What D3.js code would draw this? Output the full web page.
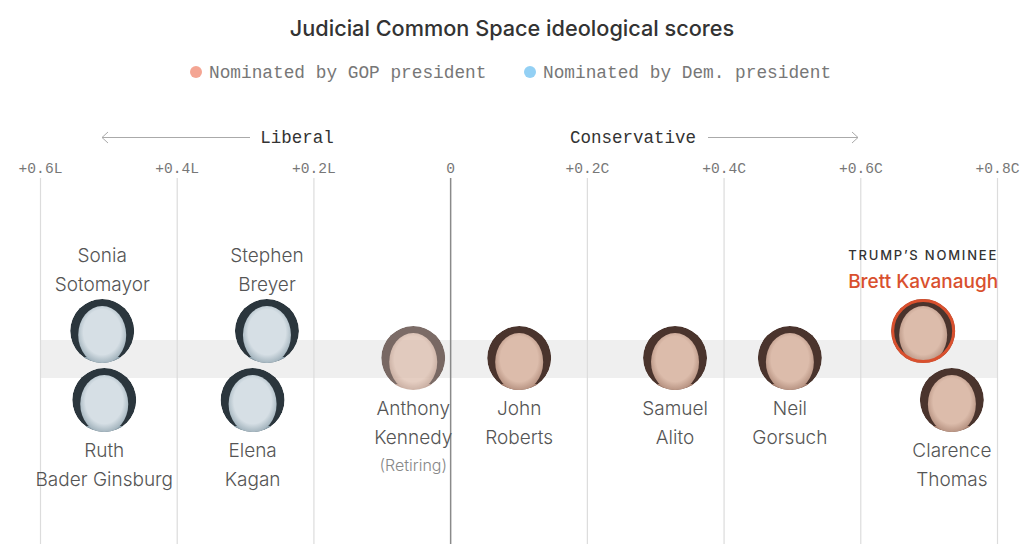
<!DOCTYPE html>
<html>
<head>
<meta charset="utf-8">
<script src="https://cdn.jsdelivr.net/npm/d3@7"></script>
<style>
  body { margin: 0; background: #fff; }
  svg { display: block; }
</style>
</head>
<body>
<div id="chart"></div>
<script>
// Judicial Common Space scores, negative = liberal, positive = conservative
var justices = ["Sotomayor", "Ginsburg", "Breyer", "Kagan", "Kennedy", "Roberts", "Alito", "Gorsuch", "Kavanaugh", "Thomas"];
var firstLines = ["Sonia", "Ruth", "Stephen", "Elena", "Anthony", "John", "Samuel", "Neil", "Brett Kavanaugh", "Clarence"];
var secondLines = ["Sotomayor", "Bader Ginsburg", "Breyer", "Kagan", "Kennedy", "Roberts", "Alito", "Gorsuch", "", "Thomas"];
var scores = [-0.509, -0.506, -0.268, -0.289, -0.054, 0.101, 0.329, 0.497, 0.692, 0.734];
var parties = ["Dem", "Dem", "Dem", "Dem", "GOP", "GOP", "GOP", "GOP", "GOP", "GOP"];
var lanes = ["above", "below", "above", "below", "middle", "middle", "middle", "middle", "above", "below"];

var tickValues = [-0.6, -0.4, -0.2, 0, 0.2, 0.4, 0.6, 0.8];
var tickLabels = ["+0.6L", "+0.4L", "+0.2L", "0", "+0.2C", "+0.4C", "+0.6C", "+0.8C"];

var legendLabels = ["Nominated by GOP president", "Nominated by Dem. president"];

var width = 1024, height = 544;
var mono = "'Liberation Mono', 'DejaVu Sans Mono', monospace";
var sans = "Inter, Lato, 'Open Sans', sans-serif";

var x = d3.scaleLinear().domain([-0.6, 0.8]).range([40, 997]);
var y = d3.scaleOrdinal().domain(["above", "middle", "below"]).range([331, 358, 400]);
var r = 32;

var svg = d3.select("#chart").append("svg")
    .attr("width", width)
    .attr("height", height);

// tints for the portrait discs (no photos available, so a simple head shape)
var defs = svg.append("defs");
var tints = {
    GOP: { bg: "#4a342d", face: "#dcbcab", shade: "#a98372" },
    Dem: { bg: "#2b363d", face: "#d6dfe5", shade: "#8ea2ad" }
};
Object.keys(tints).forEach(function(p) {
    var g = defs.append("radialGradient").attr("id", "face-" + p)
        .attr("cx", "50%").attr("cy", "45%").attr("r", "60%");
    g.append("stop").attr("offset", "0%").attr("stop-color", tints[p].face);
    g.append("stop").attr("offset", "65%").attr("stop-color", tints[p].face);
    g.append("stop").attr("offset", "100%").attr("stop-color", tints[p].shade);
});
defs.append("clipPath").attr("id", "disc")
    .append("circle").attr("r", r);

// title
svg.append("text")
    .attr("x", width / 2).attr("y", 36)
    .attr("text-anchor", "middle")
    .style("font-family", sans).style("font-size", "21.7px").style("font-weight", 500)
    .style("fill", "#333")
    .text("Judicial Common Space ideological scores");

// legend
var legendColors = ["#f4a593", "#93d0f4"];
var legendX = [196, 530];
legendLabels.forEach(function(label, i) {
    svg.append("circle")
        .attr("cx", legendX[i]).attr("cy", 72).attr("r", 6)
        .style("fill", legendColors[i]);
    svg.append("text")
        .attr("x", legendX[i] + 13).attr("y", 78)
        .style("font-family", mono).style("font-size", "17.8px")
        .style("fill", "#777")
        .text(label);
});

// gray band behind the middle row
svg.append("rect")
    .attr("x", x(-0.6)).attr("y", 340)
    .attr("width", x(0.8) - x(-0.6)).attr("height", 38)
    .style("fill", "#efefef");

// gridlines
var axis = d3.axisTop(x)
    .tickValues(tickValues)
    .tickSize(-(height - 178))
    .tickFormat(function(d, i) { return tickLabels[i]; });

var axisG = svg.append("g")
    .attr("transform", "translate(0,178)")
    .call(axis);
axisG.select(".domain").remove();
axisG.selectAll(".tick line")
    .attr("stroke", function(d) { return d === 0 ? "#8a8a8a" : "#dcdcdc"; })
    .attr("stroke-width", function(d) { return d === 0 ? 1.5 : 1.2; });
axisG.selectAll(".tick text")
    .attr("y", -5)
    .style("font-family", mono).style("font-size", "14.6px")
    .style("fill", "#777");

// direction labels with arrows
var dir = svg.append("g").attr("class", "direction");
dir.append("text")
    .attr("x", 297).attr("y", 143).attr("text-anchor", "middle")
    .style("font-family", mono).style("font-size", "17.5px").style("fill", "#333")
    .text("Liberal");
dir.append("text")
    .attr("x", 633).attr("y", 143).attr("text-anchor", "middle")
    .style("font-family", mono).style("font-size", "17.5px").style("fill", "#333")
    .text("Conservative");
dir.append("path")
    .attr("d", "M250,137.5H102M108,132L102,137.5L108,143")
    .style("fill", "none").style("stroke", "#aaa").style("stroke-width", 1);
dir.append("path")
    .attr("d", "M708,137.5H858M852,132L858,137.5L852,143")
    .style("fill", "none").style("stroke", "#aaa").style("stroke-width", 1);

// justices
var data = justices.map(function(name, i) {
    return { name: name, score: scores[i], party: parties[i], lane: lanes[i],
             line1: firstLines[i], line2: secondLines[i] };
});

var g = svg.selectAll(".justice")
    .data(data)
    .enter().append("g")
    .attr("class", "justice")
    .attr("transform", function(d) { return "translate(" + x(d.score) + "," + y(d.lane) + ")"; });

var portrait = g.append("g")
    .attr("clip-path", "url(#disc)")
    .style("opacity", function(d) { return d.name === "Kennedy" ? 0.72 : 1; });
portrait.append("circle")
    .attr("r", r)
    .style("fill", function(d) { return tints[d.party].bg; });
// shoulders
portrait.append("ellipse")
    .attr("cx", 0).attr("cy", 38).attr("rx", 32).attr("ry", 14)
    .style("fill", function(d) { return tints[d.party].shade; });
// head
portrait.append("ellipse")
    .attr("cx", 0).attr("cy", 4).attr("rx", 24).attr("ry", 29)
    .style("fill", function(d) { return "url(#face-" + d.party + ")"; });

g.filter(function(d) { return d.name === "Kavanaugh"; })
    .append("circle")
    .attr("r", r - 1.5)
    .style("fill", "none")
    .style("stroke", "#d9502e")
    .style("stroke-width", 3);

// name labels: above the circle for the top row, below for the rest
g.each(function(d) {
    var sel = d3.select(this);
    if (d.name === "Kavanaugh") {
        sel.append("text")
            .attr("y", -71).attr("text-anchor", "middle")
            .style("font-family", sans).style("font-size", "13px").style("font-weight", 500)
            .style("letter-spacing", "1.8px").style("fill", "#333")
            .text("TRUMP\u2019S NOMINEE");
        sel.append("text")
            .attr("y", -43).attr("text-anchor", "middle")
            .style("font-family", sans).style("font-size", "19px").style("font-weight", 500)
            .style("fill", "#d9502e")
            .text(d.line1);
        return;
    }
    var lines = [d.line1, d.line2];
    var startY = d.lane === "above" ? -69 : 57;
    lines.forEach(function(t, k) {
        sel.append("text")
            .attr("y", startY + k * 28.5)
            .attr("text-anchor", "middle")
            .style("font-family", sans).style("font-size", "19px").style("font-weight", 300)
            .style("fill", "#555")
            .text(t);
    });
    if (d.name === "Kennedy") {
        sel.append("text")
            .attr("y", startY + 2 * 28.5 - 1)
            .attr("text-anchor", "middle")
            .style("font-family", sans).style("font-size", "16px").style("font-weight", 300)
            .style("fill", "#888")
            .text("(Retiring)");
    }
});
</script>
</body>
</html>
